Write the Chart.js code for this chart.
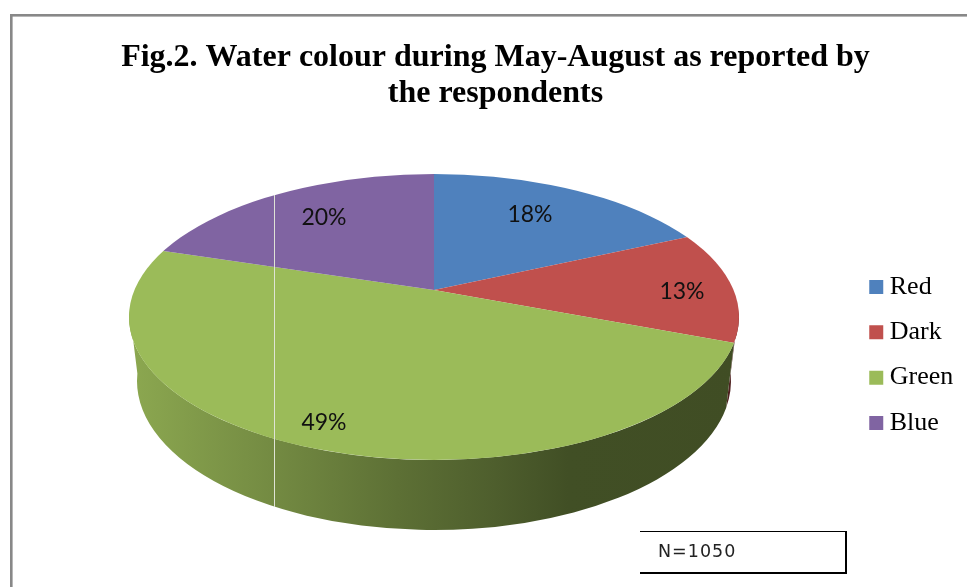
<!DOCTYPE html>
<html>
  <head>
    <title>Water colour</title>
    <script src="https://cdn.jsdelivr.net/npm/chart.js"></script>
    <style>
      body { margin: 0; background: #fff; }
      canvas { display: block; }
    </style>
  </head>
  <body>
    <canvas id="pieChart" width="967" height="587"></canvas>
    <script>
      const colours = ["Red", "Dark", "Green", "Blue"];
      const percentages = [18, 13, 49, 20];
      const sliceColors = ["#4F81BD", "#C0504D", "#9BBB59", "#8064A2"];
      const titleLines = ["Fig.2. Water colour during May-August as reported by", "the respondents"];
      const sampleNote = "N=1050";

      // Centre of each percentage label on the canvas
      const labelSpots = [[530, 215], [682, 292], [324, 423], [324, 218]];

      // Pie geometry: slices fan out from the apex, the rim is a separate ellipse
      const apex = { x: 434, y: 290 };
      const flatten = 0.445;
      const rim = { x: 434, y: 317, rx: 305, ry: 143 };
      const base = { x: 434, y: 381, rx: 297, ry: 149 };

      // Brightness of the pie wall from left to right
      const wallShade = [[0, 0.9], [0.24, 0.74], [0.44, 0.6], [0.6, 0.5], [0.72, 0.42], [1, 0.41]];

      function shaded(hex, k) {
        const n = parseInt(hex.slice(1), 16);
        return `rgb(${Math.round((n >> 16) * k)}, ${Math.round(((n >> 8) & 255) * k)}, ${Math.round((n & 255) * k)})`;
      }

      // Where a slice edge at this angle meets the rim, as an ellipse parameter
      function rimParam(angle) {
        const px = (apex.x - rim.x) / rim.rx;
        const py = (apex.y - rim.y) / rim.ry;
        const qx = Math.cos(angle) / rim.rx;
        const qy = (flatten * Math.sin(angle)) / rim.ry;
        const a = qx * qx + qy * qy;
        const b = 2 * (px * qx + py * qy);
        const c = px * px + py * py - 1;
        const l = (-b + Math.sqrt(b * b - 4 * a * c)) / (2 * a);
        let t = Math.atan2(py + l * qy, px + l * qx);
        if (t < -Math.PI / 2) t += 2 * Math.PI;
        return t;
      }

      function drawWalls(ctx, meta) {
        meta.data.forEach((arc, i) => {
          const lo = Math.max(rimParam(arc.startAngle), -0.05);
          const hi = Math.min(rimParam(arc.endAngle), Math.PI + 0.05);
          if (lo >= hi) return;
          const grad = ctx.createLinearGradient(rim.x - rim.rx, 0, rim.x + rim.rx, 0);
          wallShade.forEach(([pos, k]) => grad.addColorStop(pos, shaded(sliceColors[i], k)));
          ctx.beginPath();
          ctx.ellipse(rim.x, rim.y, rim.rx, rim.ry, 0, lo, hi);
          ctx.ellipse(base.x, base.y, base.rx, base.ry, 0, hi, lo, true);
          ctx.closePath();
          ctx.fillStyle = grad;
          ctx.fill();
        });
      }

      const tiltedPie = {
        id: "tiltedPie",
        afterLayout(chart) {
          // Pin the boxes where they belong; the apex sets the chart area centre
          const area = chart.chartArea;
          area.left = apex.x - 100;
          area.right = apex.x + 100;
          area.top = apex.y - 100;
          area.bottom = apex.y + 100;
          area.width = 200;
          area.height = 200;
          chart.titleBlock.left = 24;
          chart.titleBlock.right = 967;
          chart.titleBlock.top = 40;
          chart.legend.left = 856.4;
          chart.legend.right = 967;
          chart.legend.top = 254.6;
          chart.legend.bottom = 560;
        },
        beforeDraw(chart) {
          const { ctx } = chart;
          ctx.save();
          ctx.fillStyle = "#888888";
          ctx.fillRect(10, 14, 957, 2.6);
          ctx.fillRect(10, 14, 2.6, 573);
          ctx.restore();
        },
        beforeDatasetDraw(chart, args) {
          const { ctx } = chart;
          drawWalls(ctx, args.meta);
          ctx.save();
          ctx.beginPath();
          ctx.ellipse(rim.x, rim.y, rim.rx, rim.ry, 0, 0, 2 * Math.PI);
          ctx.clip();
          ctx.translate(apex.x, apex.y);
          ctx.scale(1, flatten);
          ctx.translate(-apex.x, -apex.y);
        },
        afterDatasetDraw(chart) {
          chart.ctx.restore();
        },
        afterDatasetsDraw(chart) {
          const { ctx } = chart;

          // Thin pale rule running down through the pie
          ctx.fillStyle = "#dfe3d6";
          ctx.fillRect(274, 195, 1, 312);

          ctx.font = "23px Lato";
          ctx.fillStyle = "#111111";
          ctx.textAlign = "center";
          ctx.textBaseline = "middle";
          percentages.forEach((value, i) => {
            ctx.fillText(value + "%", labelSpots[i][0], labelSpots[i][1]);
          });

          // Sample size note, open on its left side
          ctx.fillStyle = "#000000";
          ctx.fillRect(640, 531, 207, 1);
          ctx.fillRect(640, 572, 207, 2);
          ctx.fillRect(845, 531, 2, 43);
          ctx.font = "17.5px 'DejaVu Sans'";
          ctx.letterSpacing = "1px";
          ctx.textAlign = "left";
          ctx.textBaseline = "alphabetic";
          ctx.fillStyle = "#222222";
          ctx.fillText(sampleNote, 658, 557);
          ctx.letterSpacing = "0px";
        },
      };

      const ctx = document.getElementById("pieChart").getContext("2d");

      new Chart(ctx, {
        type: "pie",
        data: {
          labels: colours,
          datasets: [
            {
              data: percentages,
              backgroundColor: sliceColors,
              borderWidth: 0,
              clip: false,
            },
          ],
        },
        options: {
          responsive: false,
          animation: false,
          events: [],
          radius: 400,
          plugins: {
            title: {
              display: true,
              text: titleLines,
              color: "#000000",
              font: {
                family: "'Liberation Serif'",
                size: 32,
                weight: "bold",
                lineHeight: 1.125,
              },
              padding: 0,
            },
            legend: {
              position: "right",
              align: "start",
              labels: {
                usePointStyle: true,
                pointStyle: "rect",
                boxWidth: 1,
                boxHeight: 14,
                padding: 19.35,
                color: "#000000",
                font: {
                  family: "'Liberation Serif'",
                  size: 26,
                },
              },
            },
            tooltip: {
              enabled: false,
            },
          },
        },
        plugins: [tiltedPie],
      });
    </script>
  </body>
</html>
